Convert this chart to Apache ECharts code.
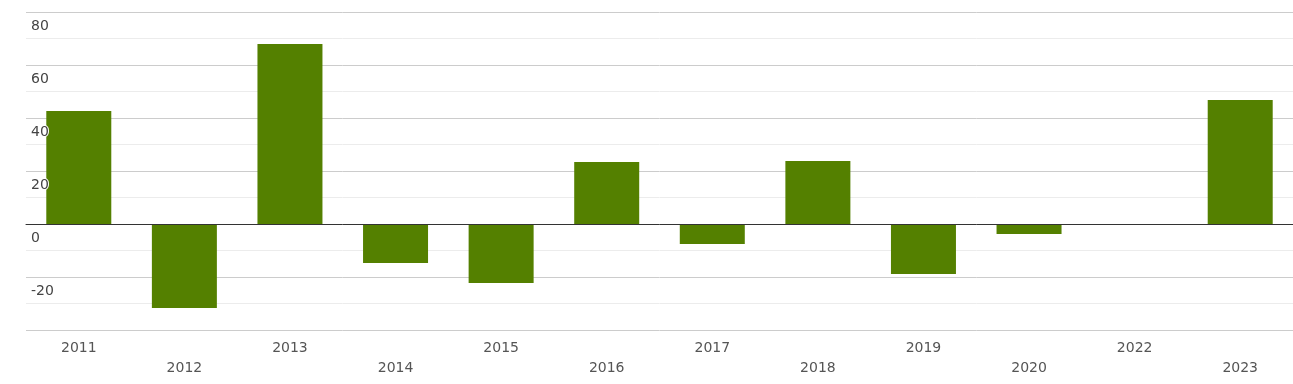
<!DOCTYPE html>
<html><head><meta charset="utf-8">
<script src="https://cdn.jsdelivr.net/npm/echarts@6/dist/echarts.min.js"></script>
<style>html,body{margin:0;padding:0;background:#fff}#c{width:1293px;height:384px}</style>
</head><body><div id="c"></div>
<script>
const categories = ['2011','2012','2013','2014','2015','2016','2017','2018','2019','2020','2022','2023'];
const values = [42.6, -31.7, 67.9, -14.7, -22.3, 23.4, -7.5, 23.8, -18.9, -3.8, 0, 46.8];
const yTicks = [-40, -20, 0, 20, 40, 60, 80];

const chart = echarts.init(document.getElementById('c'));
const yMin = yTicks[0], yMax = yTicks[yTicks.length - 1];
chart.setOption({
  animation: false,
  grid: {left: 26, right: 0, top: 12, bottom: 54, containLabel: false},
  xAxis: {
    type: 'category', data: categories, z: 5,
    axisLine: {onZero: true, onZeroAxisIndex: 0, lineStyle: {color: '#333', width: 1}},
    axisTick: {show: false},
    axisLabel: {
      color: '#555', fontSize: 14, fontFamily: 'DejaVu Sans', margin: 8, lineHeight: 20,
      interval: 0,
      formatter: (v, i) => (i % 2 === 1 ? '\n' + v : v)
    },
    splitLine: {show: false}
  },
  yAxis: [{
    type: 'value', min: yMin, max: yMax, interval: 20,
    axisLine: {show: false}, axisTick: {show: false},
    axisLabel: {show: false},
    splitLine: {show: true, lineStyle: {color: '#cccccc', width: 1}},
    minorTick: {show: false, splitNumber: 2},
    minorSplitLine: {show: true, lineStyle: {color: '#ececec', width: 1}}
  }, {
    type: 'value', min: yMin, max: yMax, interval: 20, position: 'left',
    z: 10,
    axisLine: {show: false}, axisTick: {show: false},
    splitLine: {show: false},
    axisLabel: {
      inside: true, margin: 5, color: '#444', fontSize: 14, fontFamily: 'DejaVu Sans',
      verticalAlign: 'top', padding: [7, 0, 0, 0],
      textBorderColor: '#fff', textBorderWidth: 2,
      formatter: v => (v === yMin ? '' : String(v))
    }
  }],
  series: [{
    type: 'bar', data: values, barWidth: 65, yAxisIndex: 0,
    itemStyle: {color: '#548000'}
  }]
});
</script></body></html>
